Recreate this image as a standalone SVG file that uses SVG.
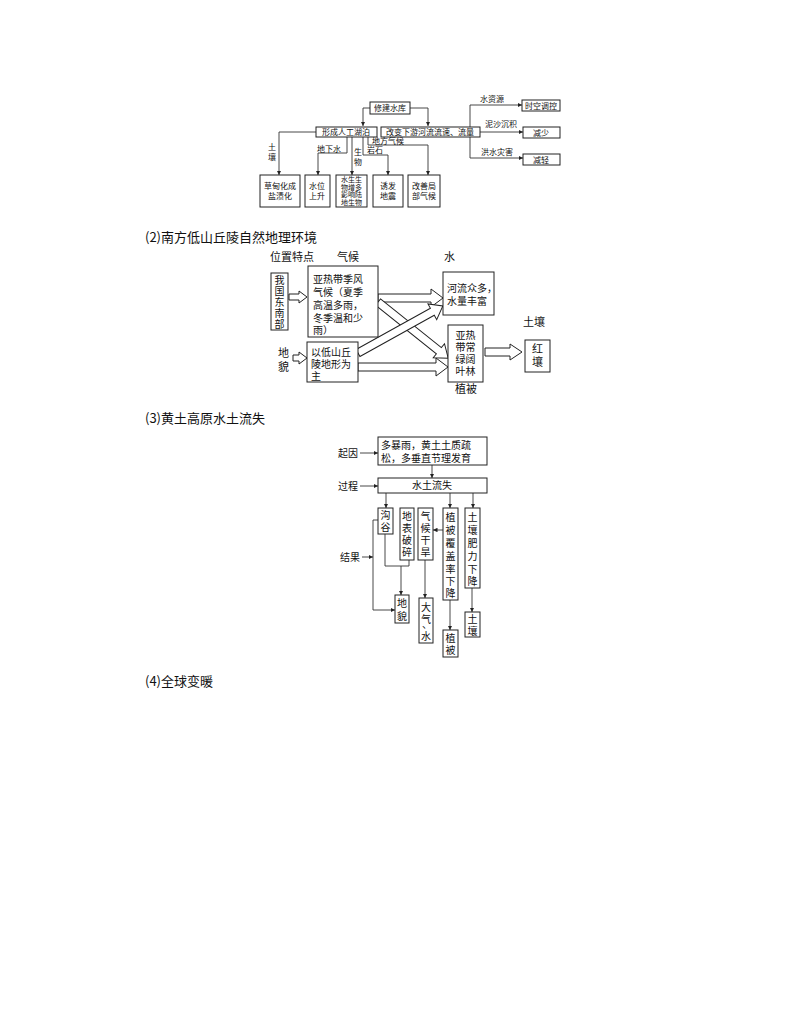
<svg xmlns="http://www.w3.org/2000/svg" width="794" height="1028" viewBox="0 0 794 1028">
<defs>
<marker id="a" viewBox="0 0 6 6" refX="6" refY="3" markerWidth="5" markerHeight="5" orient="auto"><path d="M0,0L6,3L0,6z" fill="#222"/></marker>
<style>
text{font-family:"Noto Sans CJK SC","Liberation Serif",serif;fill:#111}
.b{fill:#fff;stroke:#222;stroke-width:1}
.l{fill:none;stroke:#333;stroke-width:0.9}
.t1{font-size:8px}
.t0{font-size:7px}
.t2{font-size:11px}
.t2s{font-size:10px}
.t3{font-size:10px}
.h{font-size:13px}
.ho{fill:#fff;stroke:#222;stroke-width:1}
</style>
</defs>
<g id="titles">
<text class="h" x="145" y="242">(2)南方低山丘陵自然地理环境</text>
<text class="h" x="145" y="423">(3)黄土高原水土流失</text>
<text class="h" x="145" y="686">(4)全球变暖</text>
</g>
<g id="connectors">
<path class="l" d="M370,108H363V126" marker-end="url(#a)"/>
<path class="l" d="M410,108H428V126" marker-end="url(#a)"/>
<path class="l" d="M480,132H470M470,105V158"/>
<path class="l" d="M470,105H522" marker-end="url(#a)"/>
<path class="l" d="M470,132H523" marker-end="url(#a)"/>
<path class="l" d="M470,158H523" marker-end="url(#a)"/>
<path class="l" d="M316,132H279V175" marker-end="url(#a)"/>
<path class="l" d="M347,137V153H318V175" marker-end="url(#a)"/>
<path class="l" d="M352,137V175" marker-end="url(#a)"/>
<path class="l" d="M363,137V155H388V175" marker-end="url(#a)"/>
<path class="l" d="M368,137V145H428V175" marker-end="url(#a)"/>
<path class="ho" transform="translate(289,297)" d="M0,-3H10V-6L18,0L10,6V3H0z"/>
<path class="ho" transform="translate(293,358)" d="M0,-3H6V-6L14,0L6,6V3H0z"/>
<path class="ho" transform="translate(485,352)" d="M0,-4H25V-8L37,0L25,8V4H0z"/>
<path class="ho" transform="translate(378,298)" d="M0,-4H53V-9L65,0L53,9V4H0z"/>
<path class="ho" transform="translate(378,302) rotate(38.7)" d="M0,-4H78V-9L90,0L78,9V4H0z"/>
<path class="ho" transform="translate(358,353) rotate(-29)" d="M0,-4H85V-9L97,0L85,9V4H0z"/>
<path class="ho" transform="translate(358,367)" d="M0,-4H78V-9L90,0L78,9V4H0z"/>
<path class="l" d="M360,453H378" marker-end="url(#a)"/>
<path class="l" d="M360,486H378" marker-end="url(#a)"/>
<path class="l" d="M362,557H373" marker-end="url(#a)"/>
<path class="l" d="M432,465V478" marker-end="url(#a)"/>
<path class="l" d="M386,493V508" marker-end="url(#a)"/>
<path class="l" d="M450,493V508" marker-end="url(#a)"/>
<path class="l" d="M473,493V508" marker-end="url(#a)"/>
<path class="l" d="M378,520H373V610H395" marker-end="url(#a)"/>
<path class="l" d="M385,534V566H409V560M401,566V595" marker-end="url(#a)"/>
<path class="l" d="M443,530H433" marker-end="url(#a)"/>
<path class="l" d="M425,560V598" marker-end="url(#a)"/>
<path class="l" d="M450,600V630" marker-end="url(#a)"/>
<path class="l" d="M472,588V612" marker-end="url(#a)"/>
</g>
<g id="n1"><rect class="b" x="370" y="102" width="40" height="12"/><text class="t1" x="390" y="111" text-anchor="middle">修建水库</text></g>
<g id="n2"><rect class="b" x="316" y="127" width="61" height="10"/><text class="t1" x="346" y="135" text-anchor="middle">形成人工湖泊</text></g>
<g id="n3"><rect class="b" x="381" y="127" width="99" height="10"/><text class="t1" x="430" y="135" text-anchor="middle">改变下游河流流速、流量</text></g>
<g id="n4"><rect class="b" x="522" y="100" width="38" height="11"/><text class="t1" x="541" y="109" text-anchor="middle">时空调控</text></g>
<g id="n5"><rect class="b" x="523" y="127" width="37" height="11"/><text class="t1" x="541" y="136" text-anchor="middle">减少</text></g>
<g id="n6"><rect class="b" x="523" y="154" width="37" height="11"/><text class="t1" x="541" y="163" text-anchor="middle">减轻</text></g>
<g id="l1">
<text class="t1" x="480" y="102">水资源</text><text class="t1" x="485" y="127">泥沙沉积</text><text class="t1" x="481" y="155">洪水灾害</text>
<text class="t1" x="268" y="150">土</text><text class="t1" x="268" y="160">壤</text>
<text class="t1" x="317" y="152">地下水</text>
<text class="t1" x="354" y="155">生</text><text class="t1" x="354" y="165">物</text>
<text class="t1" x="367" y="153">岩石</text>
<text class="t1" x="372" y="144">地方气候</text>
</g>
<g id="n7"><rect class="b" x="260" y="175" width="40" height="32"/><text class="t1" x="280" y="189" text-anchor="middle">草甸化成</text><text class="t1" x="280" y="199" text-anchor="middle">盐渍化</text></g>
<g id="n8"><rect class="b" x="305" y="175" width="25" height="32"/><text class="t1" x="317" y="189" text-anchor="middle">水位</text><text class="t1" x="317" y="199" text-anchor="middle">上升</text></g>
<g id="n9"><rect class="b" x="336" y="175" width="31" height="32"/><text class="t0" x="351.5" y="182" text-anchor="middle">水生生</text><text class="t0" x="351.5" y="189.5" text-anchor="middle">物增多</text><text class="t0" x="351.5" y="197" text-anchor="middle">影响陆</text><text class="t0" x="351.5" y="204.5" text-anchor="middle">地生物</text></g>
<g id="n10"><rect class="b" x="373" y="175" width="30" height="32"/><text class="t1" x="388" y="189" text-anchor="middle">诱发</text><text class="t1" x="388" y="199" text-anchor="middle">地震</text></g>
<g id="n11"><rect class="b" x="408" y="175" width="32" height="32"/><text class="t1" x="424" y="189" text-anchor="middle">改善局</text><text class="t1" x="424" y="199" text-anchor="middle">部气候</text></g>
<g id="l2">
<text class="t2" x="270" y="261">位置特点</text><text class="t2" x="337" y="261">气候</text><text class="t2" x="444" y="261">水</text>
<text class="t2" x="523" y="326">土壤</text><text class="t2" x="455" y="393">植被</text>
<text class="t2" x="278" y="357">地</text><text class="t2" x="278" y="371">貌</text>
</g>
<g id="n12"><rect class="b" x="271" y="273" width="17" height="57"/><text class="t2s" x="279.5" y="284" text-anchor="middle">我</text><text class="t2s" x="279.5" y="295" text-anchor="middle">国</text><text class="t2s" x="279.5" y="306" text-anchor="middle">东</text><text class="t2s" x="279.5" y="317" text-anchor="middle">南</text><text class="t2s" x="279.5" y="328" text-anchor="middle">部</text></g>
<g id="n13"><rect class="b" x="308" y="266" width="70" height="71"/><text class="t2s" x="313" y="283">亚热带季风</text><text class="t2s" x="313" y="296">气候（夏季</text><text class="t2s" x="313" y="309">高温多雨，</text><text class="t2s" x="313" y="322">冬季温和少</text><text class="t2s" x="313" y="334">雨）</text></g>
<g id="n14"><rect class="b" x="443" y="272" width="51" height="43"/><text class="t2s" x="447" y="292">河流众多，</text><text class="t2s" x="447" y="305">水量丰富</text></g>
<g id="n15"><rect class="b" x="448" y="325" width="35" height="57"/><text class="t2s" x="465.5" y="339" text-anchor="middle">亚热</text><text class="t2s" x="465.5" y="351" text-anchor="middle">带常</text><text class="t2s" x="465.5" y="363" text-anchor="middle">绿阔</text><text class="t2s" x="465.5" y="375" text-anchor="middle">叶林</text></g>
<g id="n16"><rect class="b" x="525" y="340" width="25" height="32"/><text class="t2" x="537.5" y="353" text-anchor="middle">红</text><text class="t2" x="537.5" y="366" text-anchor="middle">壤</text></g>
<g id="n17"><rect class="b" x="307" y="342" width="51" height="40"/><text class="t2s" x="311" y="356">以低山丘</text><text class="t2s" x="311" y="368">陵地形为</text><text class="t2s" x="311" y="380">主</text></g>
<g id="l3"><text class="t3" x="338" y="457">起因</text><text class="t3" x="338" y="490">过程</text><text class="t3" x="340" y="561">结果</text></g>
<g id="n18"><rect class="b" x="378" y="437" width="109" height="28"/><text class="t3" x="381" y="449">多暴雨，黄土土质疏</text><text class="t3" x="381" y="462">松，多垂直节理发育</text></g>
<g id="n19"><rect class="b" x="378" y="478" width="109" height="15"/><text class="t3" x="432" y="489" text-anchor="middle">水土流失</text></g>
<g id="n20"><rect class="b" x="378" y="508" width="15" height="26"/><text class="t3" x="385.5" y="519" text-anchor="middle">沟</text><text class="t3" x="385.5" y="531" text-anchor="middle">谷</text></g>
<g id="n21"><rect class="b" x="400" y="508" width="14" height="52"/><text class="t3" x="407" y="520" text-anchor="middle">地</text><text class="t3" x="407" y="532" text-anchor="middle">表</text><text class="t3" x="407" y="544" text-anchor="middle">破</text><text class="t3" x="407" y="556" text-anchor="middle">碎</text></g>
<g id="n22"><rect class="b" x="418" y="508" width="15" height="52"/><text class="t3" x="425.5" y="520" text-anchor="middle">气</text><text class="t3" x="425.5" y="532" text-anchor="middle">候</text><text class="t3" x="425.5" y="544" text-anchor="middle">干</text><text class="t3" x="425.5" y="556" text-anchor="middle">旱</text></g>
<g id="n23"><rect class="b" x="443" y="508" width="15" height="92"/><text class="t3" x="450.5" y="521" text-anchor="middle">植</text><text class="t3" x="450.5" y="534" text-anchor="middle">被</text><text class="t3" x="450.5" y="547" text-anchor="middle">覆</text><text class="t3" x="450.5" y="560" text-anchor="middle">盖</text><text class="t3" x="450.5" y="573" text-anchor="middle">率</text><text class="t3" x="450.5" y="585" text-anchor="middle">下</text><text class="t3" x="450.5" y="597" text-anchor="middle">降</text></g>
<g id="n24"><rect class="b" x="465" y="508" width="15" height="80"/><text class="t3" x="472.5" y="521" text-anchor="middle">土</text><text class="t3" x="472.5" y="534" text-anchor="middle">壤</text><text class="t3" x="472.5" y="547" text-anchor="middle">肥</text><text class="t3" x="472.5" y="560" text-anchor="middle">力</text><text class="t3" x="472.5" y="573" text-anchor="middle">下</text><text class="t3" x="472.5" y="585" text-anchor="middle">降</text></g>
<g id="n25"><rect class="b" x="395" y="595" width="14" height="28"/><text class="t3" x="402" y="607" text-anchor="middle">地</text><text class="t3" x="402" y="620" text-anchor="middle">貌</text></g>
<g id="n26"><rect class="b" x="419" y="598" width="14" height="45"/><text class="t3" x="426" y="611" text-anchor="middle">大</text><text class="t3" x="426" y="623" text-anchor="middle">气</text><text class="t3" x="422" y="628" font-size="7">、</text><text class="t3" x="426" y="640" text-anchor="middle">水</text></g>
<g id="n27"><rect class="b" x="443" y="630" width="15" height="27"/><text class="t3" x="450.5" y="642" text-anchor="middle">植</text><text class="t3" x="450.5" y="654" text-anchor="middle">被</text></g>
<g id="n28"><rect class="b" x="465" y="612" width="15" height="25"/><text class="t3" x="472.5" y="623" text-anchor="middle">土</text><text class="t3" x="472.5" y="635" text-anchor="middle">壤</text></g>
</svg>
